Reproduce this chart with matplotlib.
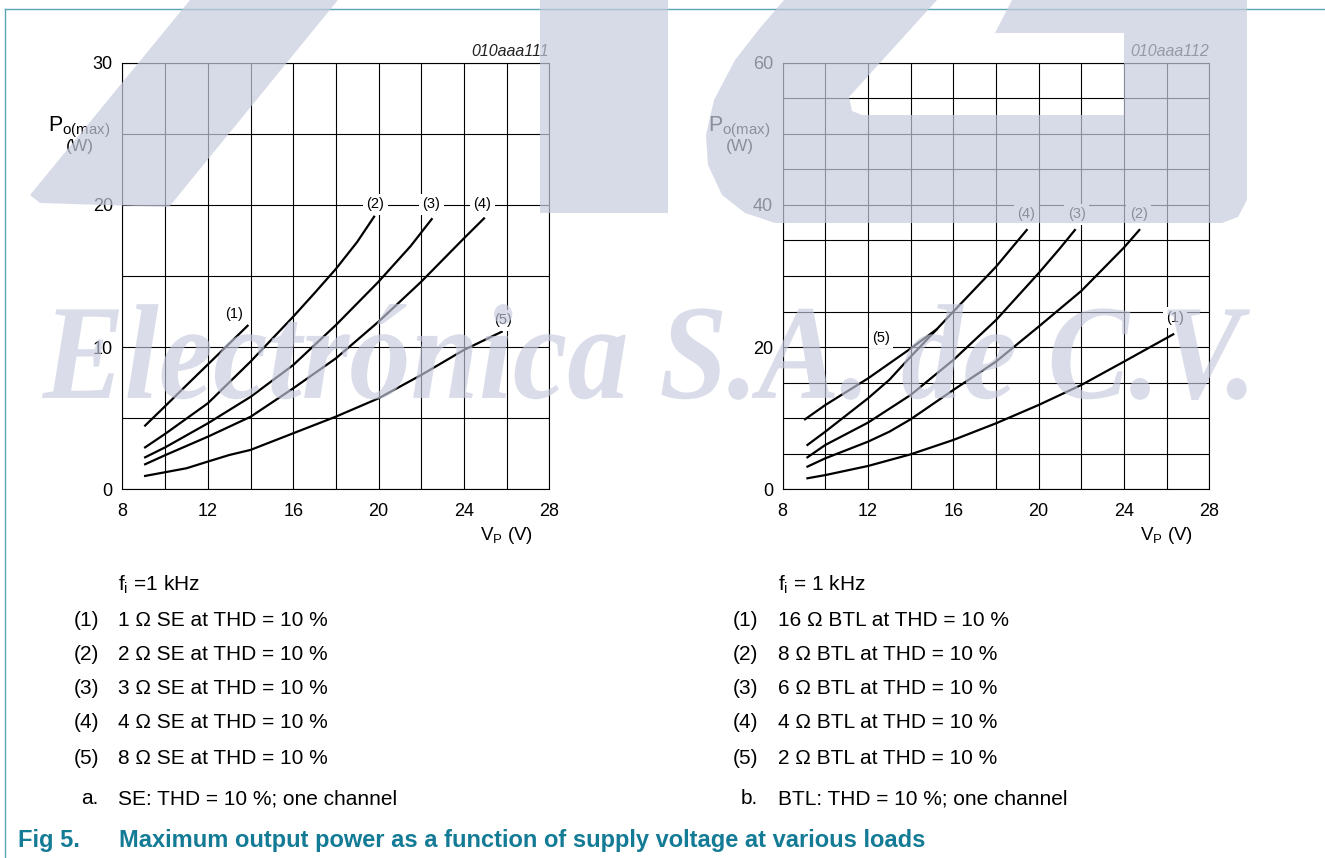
import matplotlib
matplotlib.use("Agg")
import matplotlib.pyplot as plt
from matplotlib.patches import Polygon, PathPatch
from matplotlib.lines import Line2D
from matplotlib.textpath import TextPath
from matplotlib.font_manager import FontProperties
from matplotlib.transforms import Affine2D

plt.rcParams['font.family'] = ['Liberation Sans', 'DejaVu Sans']
plt.rcParams['mathtext.fontset'] = 'custom'
plt.rcParams['mathtext.rm'] = 'Liberation Sans'
plt.rcParams['mathtext.it'] = 'Liberation Sans:italic'

# ---- data ----
# a. SE, one channel (VP in V, Po(max) in W)
se1_v = [9.06, 10, 11, 12, 13, 13.86]
se1_p = [4.48, 5.85, 7.32, 8.78, 10.24, 11.5]
se2_v = [9.06, 10, 12, 14, 16, 17, 18, 19, 19.79]
se2_p = [2.95, 3.9, 6.05, 8.98, 12.14, 13.8, 15.5, 17.4, 19.17]
se3_v = [9.06, 10, 12, 14, 16, 18, 20, 21.5, 22.49]
se3_p = [2.25, 2.95, 4.64, 6.5, 8.74, 11.55, 14.6, 17.1, 19.0]
se4_v = [9.06, 10, 12, 14, 16, 18, 20, 22, 24, 24.94]
se4_p = [1.76, 2.4, 3.7, 5.1, 7.1, 9.21, 11.79, 14.6, 17.65, 19.05]
se5_v = [9.06, 11, 12, 13, 14, 16, 18, 20, 22, 24, 25.77]
se5_p = [0.94, 1.48, 1.95, 2.41, 2.77, 3.94, 5.11, 6.4, 8.04, 9.8, 11.08]

# b. BTL, one channel
btl1_v = [9.16, 10, 12, 14, 16, 18, 20, 22, 24, 26.31]
btl1_p = [1.55, 2.0, 3.28, 4.92, 6.94, 9.28, 11.86, 14.67, 17.96, 21.8]
btl2_v = [9.16, 10, 12, 13, 14, 16, 18, 20, 22, 24, 24.72]
btl2_p = [3.19, 4.36, 6.7, 8.1, 9.85, 13.97, 17.96, 22.88, 27.9, 34.0, 36.47]
btl3_v = [9.16, 10, 12, 14, 16, 18, 20, 21, 21.7]
btl3_p = [4.5, 6.24, 9.38, 13.27, 18.19, 23.8, 30.4, 33.9, 36.47]
btl4_v = [9.16, 10, 12, 13, 14, 15.22, 16, 18, 19.44]
btl4_p = [6.24, 8.11, 12.8, 15.4, 18.66, 22.5, 25.0, 31.3, 36.47]
btl5_v = [9.05, 10, 12, 14, 15.22]
btl5_p = [9.85, 11.86, 15.6, 19.8, 22.5]

se_labels = ['1 Ω SE at THD = 10 %', '2 Ω SE at THD = 10 %', '3 Ω SE at THD = 10 %',
             '4 Ω SE at THD = 10 %', '8 Ω SE at THD = 10 %']
btl_labels = ['16 Ω BTL at THD = 10 %', '8 Ω BTL at THD = 10 %', '6 Ω BTL at THD = 10 %',
              '4 Ω BTL at THD = 10 %', '2 Ω BTL at THD = 10 %']

W, H = 1325, 858


def fx(px):
    return px / W


def fy(py):
    return 1 - py / H


fig = plt.figure(figsize=(W / 100, H / 100), dpi=100)


def setup(ax, ymax, ymajor):
    ax.set_xlim(8, 28)
    ax.set_ylim(0, ymax)
    ax.set_xticks(range(8, 29, 4))
    ax.set_xticks(range(8, 29, 2), minor=True)
    ax.set_yticks(range(0, ymax + 1, ymajor))
    ax.set_yticks(range(0, ymax + 1, 5), minor=True)
    ax.grid(which='both', color='black', lw=0.8)
    ax.set_axisbelow(True)
    ax.tick_params(which='both', length=0, labelsize=13)
    ax.tick_params(axis='y', pad=7)
    ax.tick_params(axis='x', pad=10)
    for s in ax.spines.values():
        s.set_linewidth(0.8)


axL = fig.add_axes([fx(122.5), fy(489.3), 426.8 / W, 426.6 / H])
axR = fig.add_axes([fx(782.7), fy(489.3), 426.6 / W, 426.6 / H])
setup(axL, 30, 10)
setup(axR, 60, 20)

for v, p in [(se1_v, se1_p), (se2_v, se2_p), (se3_v, se3_p), (se4_v, se4_p), (se5_v, se5_p)]:
    axL.plot(v, p, color='black', lw=1.6, solid_joinstyle='round')
for v, p in [(btl1_v, btl1_p), (btl2_v, btl2_p), (btl3_v, btl3_p), (btl4_v, btl4_p), (btl5_v, btl5_p)]:
    axR.plot(v, p, color='black', lw=1.6, solid_joinstyle='round')

box = dict(facecolor='white', edgecolor='none', pad=2.5)
for txt, x, y in [('(1)', 13.23, 12.33), ('(2)', 19.84, 20.06), ('(3)', 22.46, 20.06),
                  ('(4)', 24.85, 20.06), ('(5)', 25.83, 11.9)]:
    axL.text(x, y, txt, ha='center', va='center', fontsize=10.5, bbox=box)
for txt, x, y in [('(1)', 26.39, 24.1), ('(2)', 24.70, 38.7), ('(3)', 21.78, 38.7),
                  ('(4)', 19.41, 38.7), ('(5)', 12.61, 21.3)]:
    axR.text(x, y, txt, ha='center', va='center', fontsize=10.5, bbox=box)

# axis labels and figure codes
for ax, left, right, code in [(axL, 122.5, 549.3, '010aaa111'), (axR, 782.7, 1209.3, '010aaa112')]:
    fig.text(fx(left - 12), fy(127), r'P$_{\rm o(max)}$', ha='right', va='center', fontsize=15.5)
    fig.text(fx(left - 43), fy(146), '(W)', ha='center', va='center', fontsize=12.5)
    fig.text(fx(right - 16), fy(536), r'V$_{\rm P}$ (V)', ha='right', va='center', fontsize=13.5)
    fig.text(fx(right), fy(51), code, ha='right', va='center', fontsize=11.5,
             style='italic', color='#222222')

# notes below the charts
rows = [620, 654, 689, 723, 758]
for col_n, col_t, f_txt, labels, sub, sub_txt in [
        (74, 118, r'f$_{\rm i}$ =1 kHz', se_labels, 'a.', 'SE: THD = 10 %; one channel'),
        (733, 778, r'f$_{\rm i}$ = 1 kHz', btl_labels, 'b.', 'BTL: THD = 10 %; one channel')]:
    fig.text(fx(col_t), fy(585), f_txt, va='center', fontsize=15)
    for i, (lab, y) in enumerate(zip(labels, rows)):
        fig.text(fx(col_n), fy(y), f'({i + 1})', va='center', fontsize=15)
        fig.text(fx(col_t), fy(y), lab, va='center', fontsize=15)
    fig.text(fx(col_t - 20), fy(799), sub, va='center', ha='right', fontsize=15)
    fig.text(fx(col_t), fy(799), sub_txt, va='center', fontsize=15)

teal = '#137b95'
fig.text(fx(18), fy(840), 'Fig 5.', va='center', fontsize=17, weight='bold', color=teal)
fig.text(fx(119), fy(840), 'Maximum output power as a function of supply voltage at various loads',
         va='center', fontsize=17, weight='bold', color=teal)

# page frame
frame = '#5aa4b4'
fig.add_artist(Line2D([fx(4.7), fx(4.7)], [0, fy(9)], color=frame, lw=1))
fig.add_artist(Line2D([fx(4.7), 1], [fy(9), fy(9)], color=frame, lw=1))

# watermark (logo shapes + company name), drawn over everything
wm_col = (0.78, 0.80, 0.87)
wm = dict(facecolor=wm_col, edgecolor='none', alpha=0.7, zorder=20, transform=fig.transFigure)
shapes = [
    [(190, 0), (338, 0), (169, 207), (40, 203), (30, 195)],
    [(540, 0), (668, 0), (668, 213), (540, 213)],
    [(784, 0), (937, 0), (849, 97), (852, 111), (862, 115), (1124, 115), (1124, 33),
     (995, 33), (1012, 0), (1247, 0), (1247, 200), (1238, 217), (1222, 223), (775, 223),
     (745, 213), (722, 195), (708, 165), (706, 135), (714, 100), (735, 60), (760, 28)],
]
for pts in shapes:
    fig.add_artist(Polygon([(fx(x), fy(y)) for x, y in pts], closed=True, **wm))

tp = TextPath((0, 0), 'Electrónica S.A. de C.V.', size=100,
              prop=FontProperties(family='Liberation Serif', weight='bold', style='italic'))
ext = tp.get_extents()
x0, x1, top, base = 42, 1250, 304, 400
sx = (x1 - x0) / ext.width / W
sy = (base - top) / ext.height / H
tr = Affine2D().translate(-ext.x0, -ext.y0).scale(sx, sy).translate(fx(x0), fy(base)) + fig.transFigure
fig.add_artist(PathPatch(tp, facecolor=wm_col, edgecolor='none', alpha=0.65,
                         zorder=20, transform=tr))

fig.savefig('out.png', dpi=100)
